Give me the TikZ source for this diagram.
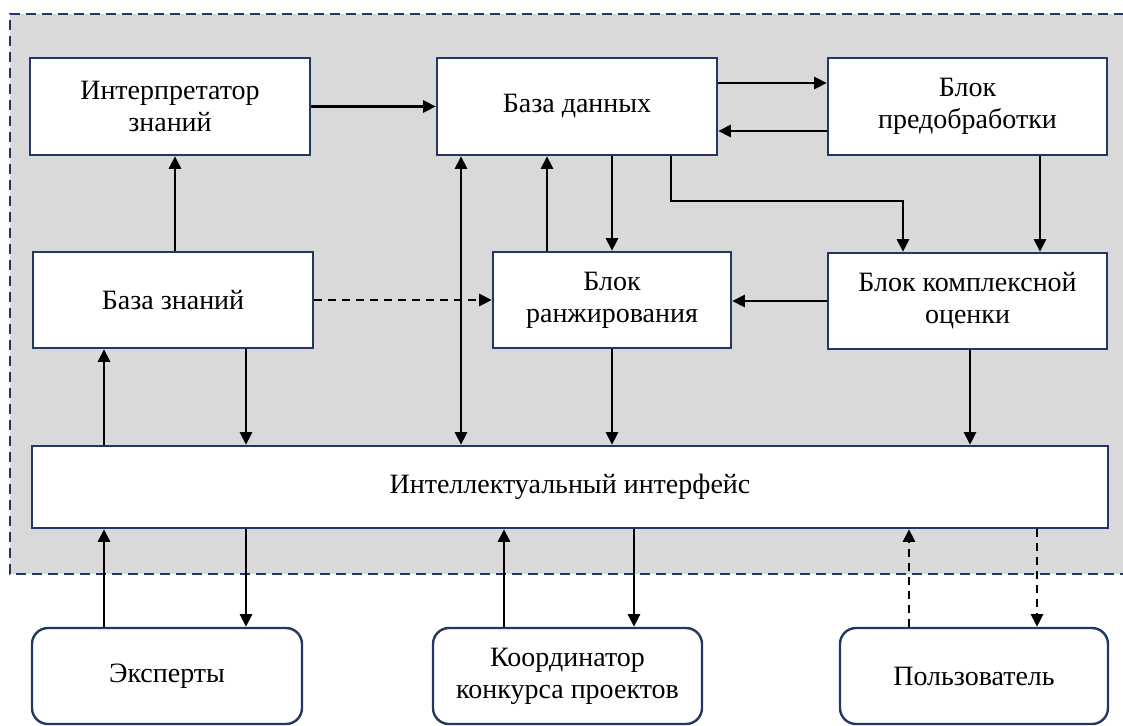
\documentclass[tikz,border=0pt]{standalone}
\usepackage{fontspec}
\setmainfont{Liberation Serif}
\usetikzlibrary{arrows.meta}
\definecolor{navy}{HTML}{1F3864}
\definecolor{bggray}{HTML}{D9D9D9}
\begin{document}
\begin{tikzpicture}[x=0.75pt,y=-0.75pt,
  box/.style={draw=navy, line width=1.8pt, fill=white, inner sep=0pt, align=center,
              font=\fontsize{21}{24}\selectfont},
  rbox/.style={box, rounded corners=12pt},
  tip/.tip={Triangle[length=9.5pt,width=9pt]},
  arr/.style={line width=1.9pt, -tip},
  darr/.style={line width=1.9pt, tip-tip},
  dsh/.style={dash pattern=on 6pt off 4.5pt},
  frame/.style={draw=navy, line width=2pt, dash pattern=on 7.5pt off 4.5pt}]
\useasboundingbox (0,0) rectangle (1123,725);
% system frame
\fill[bggray] (10,14) rectangle (1140,574);
\draw[frame] (1140,14) -- (10,14) -- (10,574) -- (1140,574);

% nodes
\node[box, minimum width=210pt, minimum height=72.75pt] (interp) at (170,106.5) {Интерпретатор\\знаний};
\node[box, minimum width=210pt, minimum height=72.75pt] (db) at (577,106.5) {База данных};
\node[box, minimum width=209.25pt, minimum height=72.75pt] (pre) at (967.5,106.5) {Блок\\предобработки};
\node[box, minimum width=210pt, minimum height=72pt] (kb) at (173,300) {База знаний};
\node[box, minimum width=178.5pt, minimum height=72pt] (rank) at (612,300) {Блок\\ранжирования};
\node[box, minimum width=209.25pt, minimum height=72pt] (eval) at (967.5,301) {Блок комплексной\\оценки};
\node[box, minimum width=807pt, minimum height=61.5pt] (ui) at (570,487) {Интеллектуальный интерфейс};
\node[rbox, minimum width=202.5pt, minimum height=72pt] (exp) at (167,676) {Эксперты};
\node[rbox, minimum width=201.75pt, minimum height=72pt] (coord) at (567.5,676) {Координатор\\конкурса проектов};
\node[rbox, minimum width=201pt, minimum height=72pt] (user) at (974,676) {Пользователь};

% top row
\draw[arr] (interp) -- (db);
\draw[arr] (db.east |- 0,83) -- (pre.west |- 0,83);
\draw[arr] (pre.west |- 0,131) -- (db.east |- 0,131);
\draw[arr] (kb.north -| 175,0) -- (interp.south -| 175,0);

% database links
\draw[darr] (db.south -| 461,0) -- (ui.north -| 461,0);
\draw[arr] (rank.north -| 547,0) -- (db.south -| 547,0);
\draw[arr] (db.south -| 612,0) -- (rank.north -| 612,0);
\coordinate (e1) at (671,201);
\coordinate (e2) at (903,201);
\draw[arr] (db.south -| e1) -- (e1) -- (e2) -- (eval.north -| e2);
\draw[arr] (pre.south -| 1040,0) -- (eval.north -| 1040,0);

% middle row
\draw[arr] (eval.west |- 0,301) -- (rank.east |- 0,301);
\draw[arr, dsh] (kb.east |- 0,300) -- (rank.west |- 0,300);

% to / from interface
\draw[arr] (ui.north -| 104,0) -- (kb.south -| 104,0);
\draw[arr] (kb.south -| 246,0) -- (ui.north -| 246,0);
\draw[arr] (rank.south -| 612,0) -- (ui.north -| 612,0);
\draw[arr] (eval.south -| 970,0) -- (ui.north -| 970,0);

% external actors
\draw[arr] (exp.north -| 104,0) -- (ui.south -| 104,0);
\draw[arr] (ui.south -| 246,0) -- (exp.north -| 246,0);
\draw[arr] (coord.north -| 504,0) -- (ui.south -| 504,0);
\draw[arr] (ui.south -| 634,0) -- (coord.north -| 634,0);
\draw[arr, dsh] (user.north -| 909,0) -- (ui.south -| 909,0);
\draw[arr, dsh] (ui.south -| 1037,0) -- (user.north -| 1037,0);
\end{tikzpicture}
\end{document}
